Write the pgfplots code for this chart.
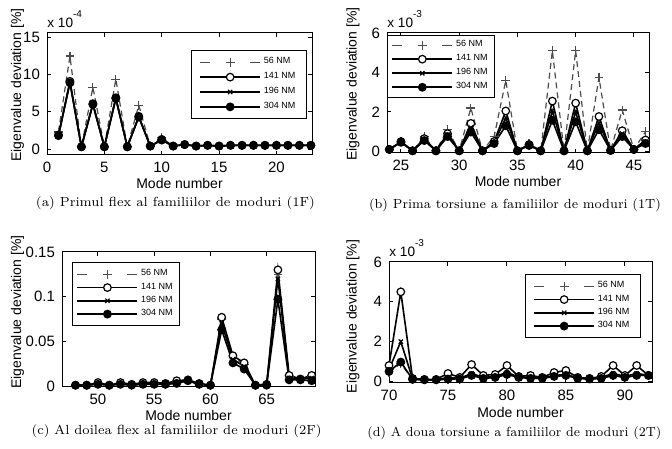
\documentclass[border=0pt]{standalone}
\usepackage{fontspec}
\usepackage{graphicx}
\usepackage{pgfplots}
\pgfplotsset{compat=1.18}
\usepackage{pgfplotstable}
\newfontfamily\axfont{Liberation Sans}

\pgfplotstableread{
m p56 p141 p196 p304
1 2.3 1.9 1.8 1.8
2 12.5 9.1 9.0 8.9
3 0.3 0.3 0.3 0.3
4 8.3 6.1 6.0 6.0
5 0.3 0.3 0.3 0.3
6 9.4 6.9 6.8 6.8
7 0.3 0.3 0.3 0.3
8 5.9 4.4 4.3 4.3
9 0.4 0.4 0.4 0.4
10 1.5 1.3 1.2 1.2
11 0.4 0.4 0.4 0.4
12 0.6 0.6 0.6 0.6
13 0.4 0.4 0.4 0.4
14 0.5 0.5 0.5 0.5
15 0.4 0.4 0.4 0.4
16 0.5 0.5 0.5 0.5
17 0.5 0.5 0.5 0.5
18 0.5 0.5 0.5 0.5
19 0.5 0.5 0.5 0.5
20 0.5 0.5 0.5 0.5
21 0.5 0.5 0.5 0.5
22 0.5 0.5 0.5 0.5
23 0.5 0.5 0.5 0.5
}\tabA

\pgfplotstableread{
m p56 p141 p196 p304
24 0.1 0.1 0.1 0.1
25 0.5 0.5 0.48 0.46
26 0.03 0.03 0.03 0.03
27 0.75 0.65 0.6 0.55
28 0.03 0.03 0.03 0.03
29 1.1 0.9 0.85 0.75
30 0.03 0.03 0.03 0.03
31 2.2 1.42 1.2 0.98
32 0.03 0.03 0.03 0.03
33 0.75 0.5 0.45 0.4
34 3.6 2.05 1.7 1.3
35 0.03 0.03 0.03 0.03
36 0.4 0.35 0.33 0.3
37 0.03 0.03 0.03 0.03
38 5.1 2.55 2.05 1.58
39 0.03 0.03 0.03 0.03
40 5.1 2.45 2.0 1.5
41 0.03 0.03 0.03 0.03
42 3.75 1.77 1.45 1.1
43 0.05 0.05 0.05 0.05
44 2.1 1.05 0.9 0.75
45 0.1 0.1 0.1 0.1
46 1.0 0.58 0.5 0.4
}\tabB

\pgfplotstableread{
m p56 p141 p196 p304
48 0.001 0.001 0.001 0.001
49 0.001 0.001 0.001 0.001
50 0.003 0.004 0.003 0.002
51 0.001 0.001 0.001 0.001
52 0.003 0.004 0.003 0.002
53 0.001 0.002 0.001 0.001
54 0.003 0.004 0.003 0.002
55 0.003 0.004 0.003 0.002
56 0.002 0.003 0.002 0.002
57 0.005 0.006 0.004 0.003
58 0.006 0.007 0.006 0.006
59 0.002 0.003 0.002 0.002
60 0.001 0.001 0.001 0.001
61 0.075 0.077 0.07 0.063
62 0.032 0.034 0.03 0.026
63 0.024 0.026 0.022 0.019
64 0.001 0.001 0.001 0.001
65 0.002 0.002 0.002 0.001
66 0.125 0.13 0.12 0.097
67 0.011 0.012 0.009 0.007
68 0.008 0.008 0.008 0.007
69 0.011 0.012 0.009 0.006
}\tabC

\pgfplotstableread{
m p56 p141 p196 p304
70 0.45 0.8 0.6 0.5
71 0.9 4.5 2.0 0.97
72 0.1 0.15 0.12 0.1
73 0.07 0.1 0.08 0.08
74 0.07 0.1 0.08 0.08
75 0.1 0.4 0.2 0.12
76 0.1 0.2 0.15 0.12
77 0.3 0.85 0.4 0.3
78 0.15 0.3 0.2 0.15
79 0.2 0.35 0.25 0.2
80 0.35 0.8 0.45 0.35
81 0.2 0.25 0.22 0.2
82 0.15 0.3 0.2 0.15
83 0.15 0.2 0.17 0.15
84 0.25 0.45 0.3 0.25
85 0.3 0.55 0.35 0.3
86 0.15 0.2 0.17 0.15
87 0.12 0.15 0.13 0.12
88 0.15 0.25 0.2 0.15
89 0.3 0.8 0.4 0.3
90 0.2 0.3 0.25 0.2
91 0.3 0.8 0.4 0.3
92 0.3 0.3 0.3 0.3
}\tabD

\pgfplotsset{
  myax/.style={
    scale only axis, clip=false,
    anchor=south west,
    tick align=inside, major tick length=2.2pt,
    axis line style={line width=0.5pt},
    every tick/.style={black, line width=0.5pt},
    tick label style={font=\axfont\fontsize{7.5}{8}\selectfont},
    label style={font=\axfont\fontsize{7}{8}\selectfont},
    /pgf/number format/assume math mode=true,
    xlabel={Mode number},
    ylabel={Eigenvalue deviation [\%]},
    legend cell align=left,
    legend style={font=\axfont\fontsize{4.5}{5}\selectfont, draw=black, line width=0.5pt,
      inner xsep=2pt, inner ysep=2pt, row sep=0.8pt,
      nodes={inner xsep=1.5pt, inner ysep=0.6pt}},
    legend image code/.code={\draw[mark repeat=2,mark phase=2,##1] plot coordinates {(0pt,0pt) (15pt,0pt) (30pt,0pt)};},
  },
  s56/.style={black!70, line width=0.6pt, dash pattern=on 3pt off 2pt, mark=+, mark size=2.2pt,
    mark options={solid, line width=0.6pt},
    legend image code/.code={\draw[mark repeat=2,mark phase=2,##1,dash pattern=on 5pt off 20pt] plot coordinates {(0pt,0pt) (15pt,0pt) (30pt,0pt)};}},
  s141/.style={black, line width=0.8pt, mark=*, mark size=1.9pt, mark options={fill=white, line width=0.6pt}},
  s196/.style={black, line width=0.8pt, mark=x, mark size=1.5pt, mark options={line width=0.6pt}},
  s304/.style={black, line width=0.8pt, mark=*, mark size=1.8pt},
}

\newcommand{\fourplots}[1]{%
  \addplot[s56] table[x=m,y=p56]{#1}; \addlegendentry{56 NM}
  \addplot[s141] table[x=m,y=p141]{#1}; \addlegendentry{141 NM}
  \addplot[s196] table[x=m,y=p196]{#1}; \addlegendentry{196 NM}
  \addplot[s304] table[x=m,y=p304]{#1}; \addlegendentry{304 NM}
}
\newcommand{\mult}[1]{\node[anchor=south west, inner sep=0pt, yshift=2.5pt, font=\axfont\fontsize{6.8}{7}\selectfont] at (rel axis cs:0,1) {x 10\raisebox{5pt}{\fontsize{5}{6}\selectfont -#1}};}
\newcommand{\capt}[2]{\resizebox{#1}{\height}{\fontsize{6.6}{8}\selectfont #2}}

\begin{document}
\begin{tikzpicture}
\useasboundingbox (0pt,0pt) rectangle (336pt,224pt);

% (a)
\begin{axis}[myax, at={(23.5pt,146.5pt)}, width=132.5pt, height=61pt,
  xmin=0, xmax=23.1, ymin=-0.8, ymax=15.6,
  xtick={0,5,10,15,20}, ytick={0,5,10,15},
  xlabel style={at={(axis description cs:0.5,-0.23)}, anchor=center},
  ylabel style={at={(axis description cs:-0.111,0.574)}, anchor=center},
  legend style={at={(axis description cs:0.981,0.861)}, anchor=north east, inner xsep=4pt, inner ysep=3pt, row sep=1.6pt}]
\fourplots{\tabA}
\mult{4}
\end{axis}

% (b)
\begin{axis}[myax, at={(193.5pt,147.5pt)}, width=131pt, height=60pt,
  xmin=23.8, xmax=46.3, ymin=-0.08, ymax=6,
  xtick={25,30,35,40,45}, ytick={0,2,4,6},
  xlabel style={at={(axis description cs:0.5,-0.239)}, anchor=center},
  ylabel style={at={(axis description cs:-0.13,0.575)}, anchor=center},
  legend style={at={(axis description cs:0.0,0.985)}, anchor=north west, row sep=1.2pt}]
\fourplots{\tabB}
\mult{3}
\end{axis}

% (c)
\begin{axis}[myax, at={(31pt,30.5pt)}, width=126.5pt, height=67.5pt,
  xmin=46.8, xmax=69.3, ymin=-0.001, ymax=0.15,
  xtick={50,55,60,65}, ytick={0,0.05,0.1,0.15}, yticklabels={0,0.05,0.1,0.15},
  xlabel style={at={(axis description cs:0.5,-0.213)}, anchor=center},
  ylabel style={at={(axis description cs:-0.176,0.556)}, anchor=center},
  legend style={at={(axis description cs:0.04,0.926)}, anchor=north west, inner ysep=3pt}]
\fourplots{\tabC}
\end{axis}

% (d)
\begin{axis}[myax, at={(194.5pt,32.5pt)}, width=131.5pt, height=60.5pt,
  xmin=70, xmax=92.3, ymin=-0.08, ymax=6,
  xtick={70,75,80,85,90}, ytick={0,2,4,6},
  xlabel style={at={(axis description cs:0.5,-0.24)}, anchor=center},
  ylabel style={at={(axis description cs:-0.137,0.55)}, anchor=center},
  legend style={at={(axis description cs:0.958,0.901)}, anchor=north east, inner xsep=4pt, inner ysep=3pt}]
\fourplots{\tabD}
\mult{3}
\end{axis}

\node[inner sep=0pt] at (87.75pt,122.5pt) {\capt{139.5pt}{(a) Primul flex al familiilor de moduri (1F)}};
\node[inner sep=0pt] at (257.5pt,121.2pt) {\capt{146pt}{(b) Prima torsiune a familiilor de moduri (1T)}};
\node[inner sep=0pt] at (88.3pt,8.25pt) {\capt{145pt}{(c) Al doilea flex al familiilor de moduri (2F)}};
\node[inner sep=0pt] at (257.2pt,7.5pt) {\capt{147pt}{(d) A doua torsiune a familiilor de moduri (2T)}};
\end{tikzpicture}
\end{document}
